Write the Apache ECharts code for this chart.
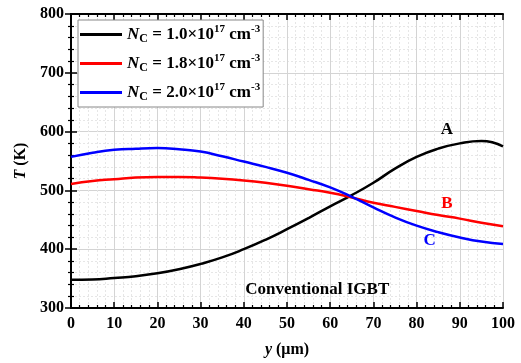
<!DOCTYPE html>
<html>
<head>
<meta charset="utf-8">
<script src="https://cdn.jsdelivr.net/npm/echarts@6/dist/echarts.min.js"></script>
<style>
  html, body { margin: 0; padding: 0; background: #fff; }
  #chart { width: 521px; height: 363px; }
</style>
</head>
<body>
<div id="chart"></div>
<script>
// y 位置 (μm)
const positions = [0, 5, 10, 15, 20, 25, 30, 35, 40, 45, 50, 55, 60, 65, 70, 75, 80, 85, 90, 95, 100];
// 温度 T (K)
const tempA = [348, 348.5, 351, 354, 359, 366, 375, 386, 400, 416, 434, 453, 473, 492, 513, 537, 557, 571, 580, 584, 575];
const tempB = [511, 516, 519, 522, 523, 523, 522, 520, 517, 513, 508, 502, 496, 488, 479, 472, 465, 458, 452, 445, 439];
const tempC = [557, 564, 569, 571, 572, 570, 566, 558, 549, 540, 530, 518, 505, 489, 471, 454, 440, 429, 420, 413, 409];
const legendNames = ["1.0", "1.8", "2.0"];

const FONT = "Liberation Serif";
const chart = echarts.init(document.getElementById("chart"));

const toPairs = (vals) => positions.map((x, i) => [x, vals[i]]);

const axisBase = {
  type: "value",
  axisLine: { show: true, lineStyle: { color: "#000", width: 2 } },
  axisTick: { show: true, inside: true, length: 6, lineStyle: { color: "#000", width: 1.5 } },
  minorTick: { show: true, splitNumber: 5, length: 3, lineStyle: { color: "#000", width: 1.2 } },
  splitLine: { show: false },
  minorSplitLine: { show: false },
  axisLabel: { show: false },
};

const mkSeries = (name, vals, color, extra) => Object.assign({
  name: name,
  type: "line",
  data: toPairs(vals),
  smooth: 0.5,
  showSymbol: false,
  symbol: "none",
  lineStyle: { color: color, width: 2.5 },
  itemStyle: { color: color },
}, extra || {});

// 曲线上的文字标注
const label = (text, x, y, color) => ({
  coord: [x, y],
  symbol: "circle",
  symbolSize: 1,
  itemStyle: { color: "rgba(0,0,0,0)" },
  label: {
    show: true, position: "inside", formatter: text, color: color,
    fontFamily: FONT, fontWeight: "bold", fontSize: 17,
  },
});

const option = {
  animation: false,
  grid: { left: 71, right: 18, top: 14, bottom: 49 },
  legend: {
    orient: "vertical",
    left: 78, top: 20,
    backgroundColor: "#fff",
    borderColor: "#888",
    borderWidth: 1,
    padding: [4, 3, 4, 2],
    itemGap: 8,
    itemWidth: 42,
    itemHeight: 3,
    icon: "rect",
    data: ["A", "B", "C"],
    formatter: (name) => {
      const idx = { A: 0, B: 1, C: 2 }[name];
      return "{i|N}{s|C}{t| = " + legendNames[idx] + "×10}{p|17}{t| cm}{p|-3}";
    },
    textStyle: {
      fontFamily: FONT, fontWeight: "bold", fontSize: 17, color: "#000",
      rich: {
        i: { fontFamily: FONT, fontWeight: "bold", fontStyle: "italic", fontSize: 17, lineHeight: 21, verticalAlign: "middle" },
        s: { fontFamily: FONT, fontWeight: "bold", fontSize: 12, lineHeight: 21, verticalAlign: "bottom", padding: [6, 0, 0, 0] },
        t: { fontFamily: FONT, fontWeight: "bold", fontSize: 17, lineHeight: 21, verticalAlign: "middle" },
        p: { fontFamily: FONT, fontWeight: "bold", fontSize: 11, lineHeight: 21, verticalAlign: "top", padding: [0, 0, 8, 0] },
      },
    },
  },
  xAxis: [
    Object.assign({}, axisBase, {
      min: 0, max: 100, interval: 10,
      position: "bottom",
      name: "{it|y} (μm)",
      nameLocation: "middle",
      nameGap: 34,
      nameTextStyle: {
        fontFamily: FONT, fontWeight: "bold", fontSize: 16, color: "#000",
        rich: { it: { fontFamily: FONT, fontWeight: "bold", fontStyle: "italic", fontSize: 16 } },
      },
      axisLabel: { show: true, margin: 8, fontFamily: FONT, fontWeight: "bold", fontSize: 16, color: "#000" },
      splitLine: { show: true, lineStyle: { color: "#d4d4d4", width: 1 } },
      minorSplitLine: { show: true, lineStyle: { color: "#e6e6e6", width: 1, type: [2, 2] } },
    }),
    Object.assign({}, axisBase, { min: 0, max: 100, interval: 10, position: "top" }),
  ],
  yAxis: [
    Object.assign({}, axisBase, {
      min: 300, max: 800, interval: 100,
      position: "left",
      name: "{it|T} (K)",
      nameLocation: "middle",
      nameGap: 38,
      nameTextStyle: {
        fontFamily: FONT, fontWeight: "bold", fontSize: 16, color: "#000",
        rich: { it: { fontFamily: FONT, fontWeight: "bold", fontStyle: "italic", fontSize: 16 } },
      },
      axisLabel: { show: true, margin: 7, fontFamily: FONT, fontWeight: "bold", fontSize: 16, color: "#000" },
      splitLine: { show: true, lineStyle: { color: "#d4d4d4", width: 1 } },
      minorSplitLine: { show: true, lineStyle: { color: "#e6e6e6", width: 1, type: [2, 2] } },
    }),
    Object.assign({}, axisBase, { min: 300, max: 800, interval: 100, position: "right" }),
  ],
  series: [
    mkSeries("A", tempA, "#000000", {
      markPoint: { data: [label("A", 87, 603, "#000"), label("Conventional IGBT", 57, 331, "#000")] },
    }),
    mkSeries("B", tempB, "#ff0000", { markPoint: { data: [label("B", 87, 478, "#ff0000")] } }),
    mkSeries("C", tempC, "#0000ff", { markPoint: { data: [label("C", 83, 415, "#0000ff")] } }),
  ],
};

chart.setOption(option);

window.addEventListener("resize", () => {
  chart.resize();
});
</script>
</body>
</html>
